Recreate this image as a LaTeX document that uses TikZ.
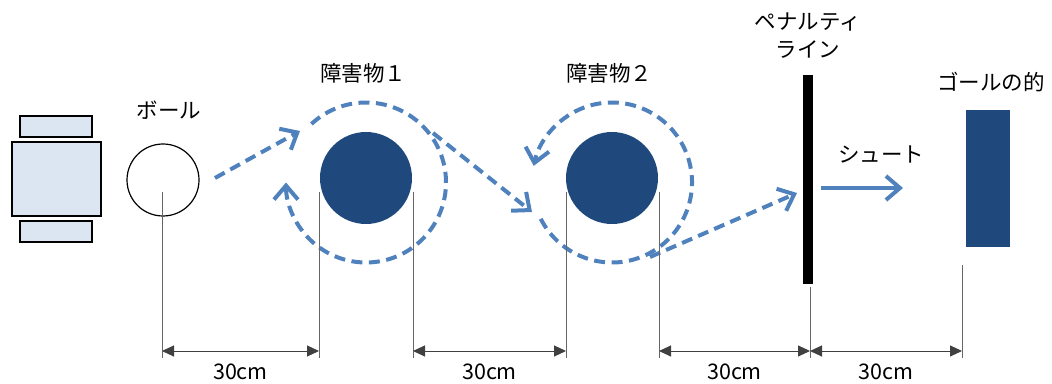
\documentclass[tikz,border=0pt]{standalone}
\usepackage{fontspec}
\setmainfont{Noto Sans CJK JP}
\usetikzlibrary{arrows.meta, calc}

\definecolor{obst}{RGB}{31,73,125}
\definecolor{ruta}{RGB}{79,129,189}
\definecolor{robot}{RGB}{220,230,242}

\tikzset{
    etiqueta/.style={font=\fontsize{21.5}{28}\selectfont, inner sep=0pt},
    obstaculo/.style={circle, fill=obst, minimum size=92pt, inner sep=0pt},
    ruedas/.style={draw, fill=robot, line width=1.2pt, minimum width=72pt, minimum height=21pt, inner sep=0pt},
    ruta/.style={draw=ruta, line width=4pt, dash pattern=on 11pt off 6.5pt,
        -{Straight Barb[length=14pt, width=24pt, line width=4pt]}},
    tiro/.style={draw=ruta, line width=4pt, -{Straight Barb[length=14pt, width=24pt]}},
    cota/.style={draw=gray!80!black, line width=0.9pt},
    flechacota/.style={draw=black!75, line width=1pt,
        {Triangle[length=12pt, width=11pt]}-{Triangle[length=12pt, width=11pt]}}
}

\begin{document}
\begin{tikzpicture}[x=1pt, y=1pt]
    \useasboundingbox (0,0) rectangle (1052,383);

    % Robot visto desde arriba
    \node[ruedas] (rueda1) at (56,256.5) {};
    \node[draw, fill=robot, line width=1.2pt, minimum width=89pt, minimum height=74pt, inner sep=0pt] (robot) at (56.5,204) {};
    \node[ruedas] (rueda2) at (56,151.5) {};

    % Pelota, obstaculos, linea y meta
    \node[draw, circle, line width=1.2pt, minimum size=72pt, inner sep=0pt] (bola) at (163,203) {};
    \node[etiqueta] (tbola) at (169,273) {ボール};
    \node[obstaculo] (obs1) at (366,205) {};
    \node[etiqueta] (tobs1) at (363,310) {障害物１};
    \node[obstaculo] (obs2) at (612,205) {};
    \node[etiqueta] (tobs2) at (609,310) {障害物２};
    \node[fill=black, minimum width=10pt, minimum height=209pt, inner sep=0pt] (linea) at (808,203.5) {};
    \node[etiqueta, align=center] (tlinea) at (808,347) {ペナルティ\\ライン};
    \node[fill=obst, minimum width=44pt, minimum height=137pt, inner sep=0pt] (meta) at (988,204.5) {};
    \node[etiqueta] (tmeta) at (991,301) {ゴールの的};

    % Recorrido de la pelota
    \coordinate (p0) at (215,205);
    \coordinate (p1) at (300,252);
    \coordinate (p2) at (433,250);
    \coordinate (p3) at (532,171);
    \coordinate (p4) at (650,126);
    \coordinate (p5) at (797,190);
    \draw[ruta] (p0) -- (p1);
    \draw[ruta] ([yshift=-4.5pt]obs1.center) ++(133:80) arc[start angle=133, end angle=-180, radius=80];
    \draw[ruta] (p2) -- (p3);
    \draw[ruta] ([yshift=-4.5pt]obs2.center) ++(-153:80) arc[start angle=-153, end angle=168, radius=80];
    \draw[ruta] (p4) -- (p5);

    % Tiro a la meta
    \coordinate (s0) at (821,195);
    \coordinate (s1) at (903,195);
    \draw[tiro] (s0) -- (s1);
    \node[etiqueta] (ttiro) at (881,228) {シュート};

    % Cotas de 30cm
    \foreach \i/\x/\y in {1/162/191, 2/319/191, 3/413/191, 4/566/191, 5/659/191, 6/810/96, 7/962/118} {
        \draw[cota] (\x,\y) -- (\x,25);
        \coordinate (d\i) at (\x,32);
    }
    \foreach \a/\b in {1/2, 3/4, 5/6, 6/7} {
        \draw[flechacota] (d\a) -- (d\b);
        \node[etiqueta] (m\a) at ($(d\a)!0.5!(d\b)+(0,-21)$) {30cm};
    }
\end{tikzpicture}
\end{document}
